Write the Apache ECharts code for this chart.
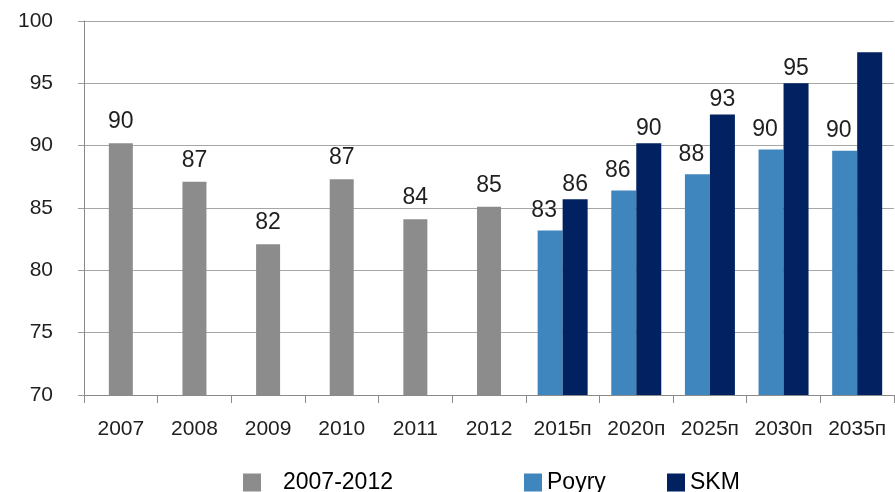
<!DOCTYPE html>
<html>
<head>
<meta charset="utf-8">
<script src="https://cdn.jsdelivr.net/npm/echarts@6/dist/echarts.min.js"></script>
<style>
html,body{margin:0;padding:0;background:#fff;}
#chart{width:895px;height:492px;}
</style>
</head>
<body>
<div id="chart"></div>
<script>
const categories = ['2007','2008','2009','2010','2011','2012','2015п','2020п','2025п','2030п','2035п'];
const historical = [90.2, 87.1, 82.1, 87.3, 84.1, 85.1, null, null, null, null, null];
const poyry = [null, null, null, null, null, null, 83.2, 86.4, 87.7, 89.7, 89.6];
const skm = [null, null, null, null, null, null, 85.7, 90.2, 92.5, 95.0, 97.5];
const historicalLabels = ['90','87','82','87','84','85','','','','',''];
const poyryLabels = ['','','','','','','83','86','88','90','90'];
const skmLabels = ['','','','','','','86','90','93','95',''];
const yTicks = { min: 70, max: 100, interval: 5 };
const seriesNames = ['2007-2012', 'Poyry', 'SKM'];

const FONT = 'Liberation Sans, Arial, sans-serif';
const TXT = '#1f1f1f';

const chart = echarts.init(document.getElementById('chart'), null, { renderer: 'canvas' });

function legendAt(name, left, textPad) {
  return {
    data: [name],
    left: left,
    top: 466,
    orient: 'horizontal',
    icon: 'rect',
    itemWidth: 18,
    itemHeight: 18,
    selectedMode: false,
    textStyle: { fontFamily: FONT, fontSize: 23, color: '#000', lineHeight: 23, padding: [0, 0, 0, textPad] }
  };
}

const option = {
  backgroundColor: '#fff',
  animation: false,
  legend: [
    legendAt(seriesNames[0], 238, 17),
    legendAt(seriesNames[1], 519, 0),
    legendAt(seriesNames[2], 662, 0)
  ],
  grid: { left: 84, right: 1, top: 21, bottom: 97, containLabel: false },
  xAxis: [
    {
      type: 'category',
      data: categories,
      axisLine: { show: true, lineStyle: { color: '#8a8a8a', width: 1 } },
      axisTick: { show: true, length: 8, lineStyle: { color: '#8a8a8a' } },
      axisLabel: { interval: 0, fontFamily: FONT, fontSize: 21, color: TXT, margin: 24 },
      splitLine: { show: false }
    },
    {
      type: 'category',
      data: categories,
      show: false
    }
  ],
  yAxis: {
    type: 'value',
    min: yTicks.min,
    max: yTicks.max,
    interval: yTicks.interval,
    axisLine: { show: true, lineStyle: { color: '#8a8a8a', width: 1 } },
    axisTick: { show: true, length: 6, lineStyle: { color: '#9a9a9a' } },
    axisLabel: { fontFamily: FONT, fontSize: 21, color: TXT, margin: 31 },
    splitLine: { show: true, lineStyle: { color: '#a6a6a6', width: 1 } }
  },
  series: [
    {
      name: seriesNames[0],
      type: 'bar',
      xAxisIndex: 0,
      data: historical,
      barWidth: 24,
      itemStyle: { color: '#8c8c8c' },
      label: {
        show: true, position: 'top', distance: 10,
        fontFamily: FONT, fontSize: 23, color: TXT,
        formatter: p => historicalLabels[p.dataIndex]
      }
    },
    {
      name: seriesNames[1],
      type: 'bar',
      xAxisIndex: 1,
      data: poyry,
      barWidth: 25,
      barGap: '0%',
      itemStyle: { color: '#3e86bd' },
      label: {
        show: true, position: 'top', distance: 8, offset: [-6, 0],
        fontFamily: FONT, fontSize: 23, color: TXT,
        formatter: p => poyryLabels[p.dataIndex]
      }
    },
    {
      name: seriesNames[2],
      type: 'bar',
      xAxisIndex: 1,
      data: skm,
      barWidth: 25,
      barGap: '0%',
      itemStyle: { color: '#012161' },
      label: {
        show: true, position: 'top', distance: 3,
        fontFamily: FONT, fontSize: 23, color: TXT,
        formatter: p => skmLabels[p.dataIndex]
      }
    }
  ]
};
chart.setOption(option);
</script>
</body>
</html>
